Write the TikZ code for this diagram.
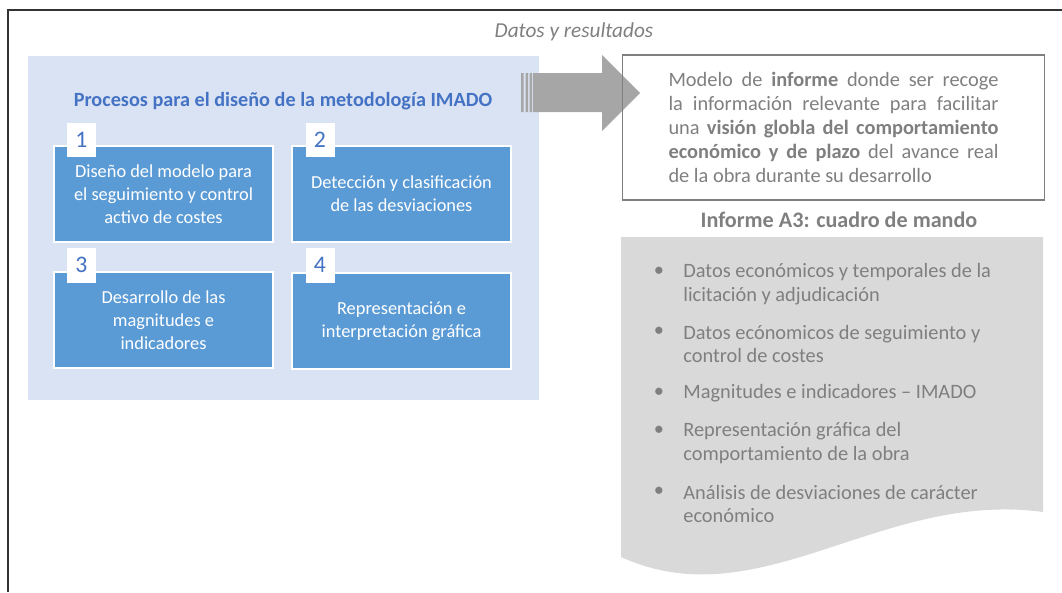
\documentclass[tikz,border=0pt]{standalone}
\usepackage{fontspec}
\setmainfont{Carlito}
\usepackage{tikz}

\definecolor{panelblue}{HTML}{DAE3F3}
\definecolor{boxblue}{HTML}{5B9BD5}
\definecolor{titleblue}{HTML}{4472C4}
\definecolor{textgrey}{HTML}{7F7F7F}
\definecolor{arrowgrey}{HTML}{A6A6A6}
\definecolor{docgrey}{HTML}{D9D9D9}

\begin{document}
\begin{tikzpicture}[x=0.02cm, y=-0.02cm,
        procbox/.style={draw=white, line width=1pt, fill=boxblue, text=white, align=center,
            minimum width=4.38cm, minimum height=1.92cm, inner sep=0pt,
            font=\fontsize{10.45}{13}\selectfont},
        numbox/.style={fill=white, text=titleblue, minimum width=0.58cm, minimum height=0.7cm,
            inner sep=0pt, font=\fontsize{13.5}{13.5}\selectfont},
        greytext/.style={text=textgrey, inner sep=0pt, font=\fontsize{11.6}{13.6}\selectfont}]
        \useasboundingbox (0,0) rectangle (1062,592);
        \draw[black!80, line width=0.6pt] (8,592) -- (8,10) -- (1062,10);
        \node[greytext, font=\fontsize{12.1}{13.6}\selectfont\itshape] (datos) at (574,32) {Datos y resultados};

        % procesos
        \fill[panelblue] (28,56) rectangle (539,400);
        \node[text=titleblue, font=\fontsize{11.5}{13}\selectfont\bfseries] (titulo) at (283,101)
            {Procesos para el diseño de la metodología IMADO};
        \node[procbox] (p1) at (163.5,194) {Diseño del modelo para\\el seguimiento y control\\activo de costes};
        \node[procbox] (p2) at (401.5,194) {Detección y clasificación\\de las desviaciones};
        \node[procbox] (p3) at (163.5,320) {Desarrollo de las\\magnitudes e\\indicadores};
        \node[procbox] (p4) at (401.5,321) {Representación e\\interpretación gráfica};
        \node[numbox] (n1) at (81.5,140) {1};
        \node[numbox] (n2) at (320,140) {2};
        \node[numbox] (n3) at (81.5,265) {3};
        \node[numbox] (n4) at (320,265) {4};

        % flecha
        \fill[arrowgrey] (521,73) rectangle (523.5,112) (525.5,73) rectangle (528,112) (529.5,73) rectangle (532,112);
        \fill[arrowgrey] (533,73) -- (602,73) -- (602,55) -- (640,93) -- (602,131) -- (602,112) -- (533,112) -- cycle;

        % informe
        \node[draw=textgrey, line width=0.6pt, minimum width=8.44cm, minimum height=2.9cm,
            greytext, align=left] (informe) at (833.5,127.5)
            {\makebox[6.6cm][s]{Modelo de \textbf{informe} donde ser recoge}\\
             \makebox[6.6cm][s]{la información relevante para facilitar}\\
             \makebox[6.6cm][s]{una \textbf{visión globla del comportamiento}}\\
             \makebox[6.6cm][s]{\textbf{económico y de plazo} del avance real}\\
             \makebox[6.6cm][l]{de la obra durante su desarrollo}};
        \node[greytext, font=\fontsize{12.6}{13.6}\selectfont\bfseries] (cuadro) at (839,220)
            {Informe A3: cuadro de mando};

        % cuadro de mando
        \fill[docgrey] (621,237) -- (1043,237) -- (1043,512)
            .. controls (880,490) and (760,620) .. (621,557) -- cycle;
        \foreach \n/\yb/\ym/\txt in {1/272/284/{Datos económicos y temporales de la\\licitación y adjudicación},
                2/332/344/{Datos ecónomicos de seguimiento y\\control de costes},
                3/393/393/{Magnitudes e indicadores – IMADO},
                4/431/443/{Representación gráfica del\\comportamiento de la obra},
                5/492/504/{Análisis de desviaciones de carácter\\económico}}
        {
            \node[greytext] (b\n) at (659,\yb) {\textbullet};
            \node[greytext, align=left, anchor=west] (t\n) at (683,\ym) {\txt};
        }
        \end{tikzpicture}
\end{document}
